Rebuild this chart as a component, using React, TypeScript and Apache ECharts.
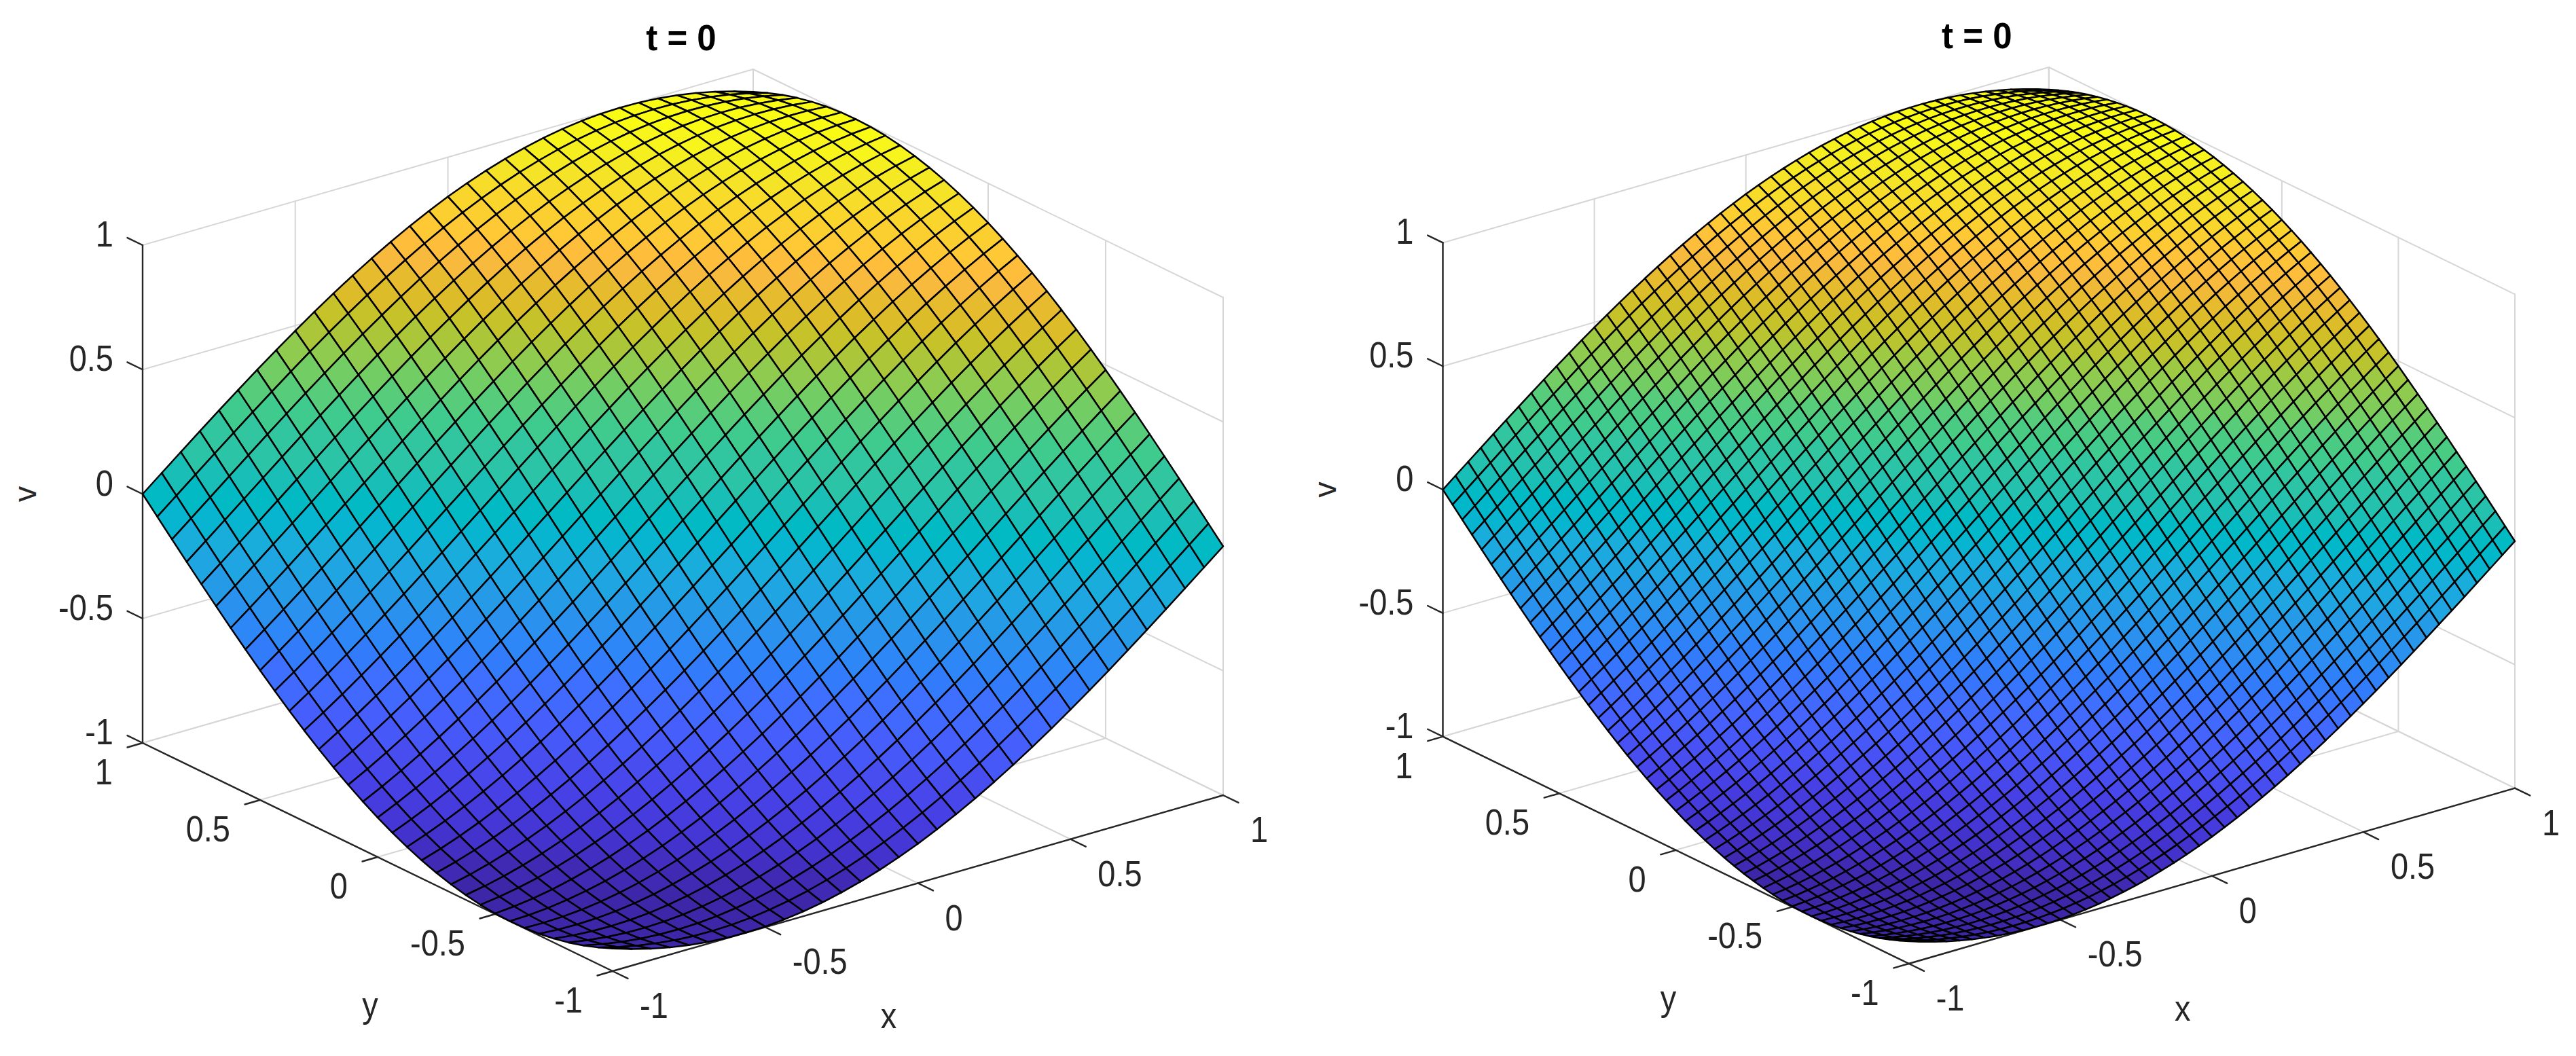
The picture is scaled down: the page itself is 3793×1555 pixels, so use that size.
import React, { useEffect, useRef } from "react";
import * as echarts from "echarts";

const TITLE = "t = 0";
const TICKS = [-1, -0.5, 0, 0.5, 1];
const TICK_LABELS = ["-1", "-0.5", "0", "0.5", "1"];

// surface height read along the diagonal x + y, one value per grid step, left panel (32 x 32 cells)
const PROFILE_LEFT = [
  -0.9093, -0.9335, -0.9541, -0.9711, -0.984, -0.9932, -0.9985, -0.9999, -0.9975, -0.9913, -0.9809, -0.9668, -0.949,
  -0.9274, -0.9023, -0.8736, -0.8415, -0.8061, -0.7675, -0.726, -0.6816, -0.6347, -0.5851, -0.5333, -0.4794, -0.4237,
  -0.3663, -0.3074, -0.2474, -0.1864, -0.1247, -0.0625, 0, 0.0625, 0.1247, 0.1864, 0.2474, 0.3074, 0.3663, 0.4237,
  0.4794, 0.5333, 0.5851, 0.6347, 0.6816, 0.726, 0.7675, 0.8061, 0.8415, 0.8736, 0.9023, 0.9274, 0.949, 0.9668, 0.9809,
  0.9913, 0.9975, 0.9999, 0.9985, 0.9932, 0.984, 0.9711, 0.9541, 0.9335, 0.9093,
];

// same reading for the right panel (48 x 48 cells)
const PROFILE_RIGHT = [
  -0.9093, -0.9258, -0.9407, -0.9541, -0.9657, -0.9757, -0.984, -0.9906, -0.9954, -0.9985, -0.9999, -0.9996, -0.9975,
  -0.9937, -0.9882, -0.9809, -0.9719, -0.9613, -0.949, -0.935, -0.9194, -0.9023, -0.8835, -0.8632, -0.8415, -0.8181,
  -0.7935, -0.7675, -0.7402, -0.7115, -0.6816, -0.6506, -0.6184, -0.5851, -0.5508, -0.5155, -0.4794, -0.4425, -0.4048,
  -0.3663, -0.3272, -0.2875, -0.2474, -0.2068, -0.1659, -0.1247, -0.0832, -0.0417, 0, 0.0417, 0.0832, 0.1247, 0.1659,
  0.2068, 0.2474, 0.2875, 0.3272, 0.3663, 0.4048, 0.4425, 0.4794, 0.5155, 0.5508, 0.5851, 0.6184, 0.6506, 0.6816,
  0.7115, 0.7402, 0.7675, 0.7935, 0.8181, 0.8415, 0.8632, 0.8835, 0.9023, 0.9194, 0.935, 0.949, 0.9613, 0.9719, 0.9809,
  0.9882, 0.9937, 0.9975, 0.9996, 0.9999, 0.9985, 0.9954, 0.9906, 0.984, 0.9757, 0.9657, 0.9541, 0.9407, 0.9258, 0.9093,
];

const PARULA = [
  [0.2422, 0.1504, 0.6603], [0.2504, 0.165, 0.7076], [0.2578, 0.1818, 0.7511], [0.2647, 0.1978, 0.7952],
  [0.2706, 0.2147, 0.8364], [0.2751, 0.2342, 0.871], [0.2783, 0.2559, 0.8991], [0.2803, 0.2782, 0.9221],
  [0.2813, 0.3006, 0.9414], [0.281, 0.3228, 0.9579], [0.2795, 0.3447, 0.9717], [0.276, 0.3667, 0.9829],
  [0.2699, 0.3892, 0.9906], [0.2602, 0.4123, 0.9952], [0.244, 0.4358, 0.9988], [0.2206, 0.4603, 0.9973],
  [0.1963, 0.4847, 0.9892], [0.1834, 0.5074, 0.9798], [0.1786, 0.5289, 0.9682], [0.1764, 0.5499, 0.952],
  [0.1687, 0.5703, 0.9359], [0.154, 0.5902, 0.9218], [0.146, 0.6091, 0.9079], [0.138, 0.6276, 0.8973],
  [0.1248, 0.6459, 0.8883], [0.1113, 0.6635, 0.8763], [0.0952, 0.6798, 0.8598], [0.0689, 0.6948, 0.8394],
  [0.0297, 0.7082, 0.8163], [0.0036, 0.7203, 0.7917], [0.0067, 0.7312, 0.766], [0.0433, 0.7411, 0.7394],
  [0.0964, 0.75, 0.712], [0.1408, 0.7584, 0.6842], [0.1717, 0.767, 0.6554], [0.1938, 0.7758, 0.6251],
  [0.2161, 0.7843, 0.5923], [0.247, 0.7918, 0.5567], [0.2906, 0.7973, 0.5188], [0.3406, 0.8008, 0.4789],
  [0.3909, 0.8029, 0.4354], [0.4456, 0.8024, 0.3909], [0.5044, 0.7993, 0.348], [0.5616, 0.7942, 0.3045],
  [0.6174, 0.7876, 0.2612], [0.672, 0.7793, 0.2227], [0.7242, 0.7698, 0.191], [0.7738, 0.7598, 0.1646],
  [0.8203, 0.7498, 0.1535], [0.8634, 0.7406, 0.1596], [0.9035, 0.733, 0.1774], [0.9393, 0.7288, 0.21],
  [0.9728, 0.7298, 0.2394], [0.9956, 0.7434, 0.2371], [0.997, 0.7659, 0.2199], [0.9952, 0.7893, 0.2028],
  [0.9892, 0.8136, 0.1885], [0.9786, 0.8386, 0.1766], [0.9676, 0.8639, 0.1643], [0.961, 0.889, 0.1537],
  [0.9597, 0.9135, 0.1423], [0.9628, 0.9373, 0.1265], [0.9691, 0.9606, 0.1064], [0.9769, 0.9839, 0.0805],
];

type Vec = [number, number, number];
type View = {
  xu: number; yu: number; xw: number; yw: number; zw: number;
  left: number; top: number; width: number; height: number;
  cells: number; profile: number[];
};

const VIEW_LEFT: View = {
  xu: 449.5, yu: -346, xw: 129.5, yw: 168, zw: 366.5,
  left: 210, top: 102, width: 1591, height: 1328,
  cells: 32, profile: PROFILE_LEFT,
};
const VIEW_RIGHT: View = {
  xu: 446.15, yu: -343.1, xw: 129.35, yw: 167.35, zw: 364,
  left: 2124.5, top: 99, width: 1578.5, height: 1320,
  cells: 48, profile: PROFILE_RIGHT,
};

const GRID_COLOR = "#d6d6d6";
const AXIS_COLOR = "#262626";
const EDGE_COLOR = "#000000";
const FONT = "'Liberation Sans'";
const FONT_SIZE = 47;
const STRETCH = 1.13;

const project = (v: View, p: Vec): [number, number] => [
  v.xu * p[0] + v.yu * p[1],
  v.xw * p[0] + v.yw * p[1] + v.zw * p[2],
];

const colorOf = (value: number) => {
  const i = Math.min(PARULA.length - 1, Math.max(0, Math.floor(((value + 1) / 2) * PARULA.length)));
  const c = PARULA[i];
  return `rgb(${Math.round(c[0] * 255)},${Math.round(c[1] * 255)},${Math.round(c[2] * 255)})`;
};

function frameSeries(v: View, gridIndex: number) {
  const lines: { a: Vec; b: Vec; color: string; width: number }[] = [];
  const grid = (a: Vec, b: Vec) => lines.push({ a, b, color: GRID_COLOR, width: 2 });
  const axis = (a: Vec, b: Vec) => lines.push({ a, b, color: AXIS_COLOR, width: 2.4 });
  TICKS.forEach((t) => {
    grid([t, 1, -1], [t, 1, 1]);
    grid([-1, 1, t], [1, 1, t]);
    grid([1, t, -1], [1, t, 1]);
    grid([1, -1, t], [1, 1, t]);
    grid([t, -1, -1], [t, 1, -1]);
    grid([-1, t, -1], [1, t, -1]);
  });
  axis([-1, 1, -1], [-1, 1, 1]);
  axis([-1, -1, -1], [-1, 1, -1]);
  axis([-1, -1, -1], [1, -1, -1]);
  TICKS.forEach((t) => {
    axis([-1, 1, t], [-1, 1.065, t]);
    axis([-1, t, -1], [-1.05, t, -1]);
    axis([t, -1, -1], [t, -1.065, -1]);
  });
  return {
    type: "custom",
    coordinateSystem: "cartesian2d",
    xAxisIndex: gridIndex,
    yAxisIndex: gridIndex,
    silent: true,
    z: 1,
    data: lines.map((_, i) => [i]),
    renderItem: (params: any, api: any) => {
      const l = lines[params.dataIndex];
      const a = api.coord(project(v, l.a));
      const b = api.coord(project(v, l.b));
      return {
        type: "line",
        shape: { x1: a[0], y1: a[1], x2: b[0], y2: b[1] },
        style: { stroke: l.color, lineWidth: l.width, fill: "none", lineCap: "round" },
      };
    },
  };
}

function surfaceSeries(v: View, gridIndex: number) {
  const n = v.cells;
  const coordOf = (i: number) => -1 + (2 * i) / n;
  const cells: [number, number][] = [];
  for (let k = 2 * n - 2; k >= 0; k--) {
    for (let i = 0; i < n; i++) {
      const j = k - i;
      if (j >= 0 && j < n) cells.push([i, j]);
    }
  }
  const vertex = (i: number, j: number): Vec => [coordOf(i), coordOf(j), v.profile[i + j]];
  return {
    type: "custom",
    coordinateSystem: "cartesian2d",
    xAxisIndex: gridIndex,
    yAxisIndex: gridIndex,
    silent: true,
    z: 2,
    progressive: 0,
    data: cells,
    renderItem: (params: any, api: any) => {
      const [i, j] = cells[params.dataIndex];
      const pts = [vertex(i, j), vertex(i + 1, j), vertex(i + 1, j + 1), vertex(i, j + 1)].map((p) =>
        api.coord(project(v, p)),
      );
      return {
        type: "polygon",
        shape: { points: pts },
        style: {
          fill: colorOf(v.profile[i + j]),
          stroke: EDGE_COLOR,
          lineWidth: 2.5,
          lineJoin: "round",
        },
      };
    },
  };
}

function textSeries(v: View, gridIndex: number) {
  type Label = {
    text: string; at: Vec; dx: number; dy: number; align: string;
    bold?: boolean; rotate?: number; size?: number; sy?: number;
  };
  const labels: Label[] = [];
  TICKS.forEach((t, i) => {
    labels.push({ text: TICK_LABELS[i], at: [-1, 1, t], dx: -43, dy: -16, align: "right" });
    labels.push({ text: TICK_LABELS[i], at: [-1, t, -1], dx: -44, dy: 43, align: "right" });
    labels.push({ text: TICK_LABELS[i], at: [t, -1, -1], dx: 40, dy: 51, align: "left" });
  });
  labels.push({ text: "v", at: [-1, 1, 0], dx: -174, dy: 0, align: "center", rotate: Math.PI / 2, sy: 1 });
  labels.push({ text: "y", at: [-1, 0, -1], dx: -11, dy: 218, align: "center" });
  labels.push({ text: "x", at: [0, -1, -1], dx: -43, dy: 195, align: "center" });
  labels.push({ text: TITLE, at: [1, 1, 1], dx: -106, dy: -46, align: "center", bold: true, size: 51, sy: 1.05 });
  return {
    type: "custom",
    coordinateSystem: "cartesian2d",
    xAxisIndex: gridIndex,
    yAxisIndex: gridIndex,
    silent: true,
    z: 3,
    data: labels.map((_, i) => [i]),
    renderItem: (params: any, api: any) => {
      const l = labels[params.dataIndex];
      const c = api.coord(project(v, l.at));
      return {
        type: "text",
        x: c[0] + l.dx,
        y: c[1] + l.dy,
        rotation: l.rotate || 0,
        scaleY: l.sy ?? STRETCH,
        style: {
          text: l.text,
          fontFamily: FONT,
          fontSize: l.size || FONT_SIZE,
          fontWeight: l.bold ? "bold" : "normal",
          fill: l.bold ? "#000000" : AXIS_COLOR,
          align: l.align,
          verticalAlign: "middle",
        },
      };
    },
  };
}

const views = [VIEW_LEFT, VIEW_RIGHT];

export default function App() {
  const ref = useRef<HTMLDivElement>(null);
  useEffect(() => {
    document.body.style.margin = "0";
    const chart = echarts.init(ref.current!, undefined, { renderer: "svg" });
    chart.setOption({
      animation: false,
      backgroundColor: "#ffffff",
      grid: views.map((v) => ({ left: v.left, top: v.top, width: v.width, height: v.height })),
      xAxis: views.map((v, i) => {
        const e = Math.abs(v.xu) + Math.abs(v.yu);
        return { type: "value", gridIndex: i, min: -e, max: e, show: false };
      }),
      yAxis: views.map((v, i) => {
        const e = v.xw + v.yw + v.zw;
        return { type: "value", gridIndex: i, min: -e, max: e, show: false };
      }),
      series: views.flatMap((v, i) => [frameSeries(v, i), surfaceSeries(v, i), textSeries(v, i)]),
    });
    return () => chart.dispose();
  }, []);
  return <div ref={ref} style={{ position: "fixed", left: 0, top: 0, width: 3793, height: 1555 }} />;
}
